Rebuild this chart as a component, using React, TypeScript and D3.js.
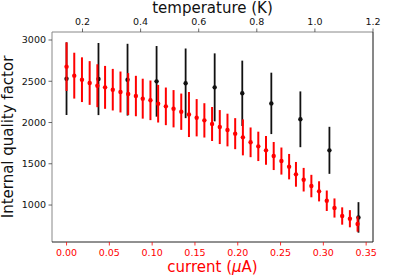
import * as d3 from "d3";
import React, { useEffect, useRef } from "react";

// red series: internal Q vs bias current
const currentUA = [
  0.0, 0.009, 0.018, 0.027, 0.036, 0.045, 0.054, 0.063, 0.072, 0.081, 0.089,
  0.098, 0.107, 0.116, 0.125, 0.134, 0.143, 0.152, 0.161, 0.17, 0.179, 0.188,
  0.197, 0.206, 0.215, 0.224, 0.233, 0.242, 0.251, 0.26, 0.268, 0.277, 0.286,
  0.295, 0.304, 0.313, 0.322, 0.331, 0.34,
];
const qCurrent = [
  2677, 2568, 2519, 2479, 2446, 2426, 2398, 2370, 2345, 2321, 2289, 2269, 2228,
  2196, 2167, 2131, 2097, 2058, 2026, 1982, 1945, 1909, 1865, 1820, 1760, 1711,
  1663, 1594, 1533, 1465, 1372, 1307, 1230, 1166, 1052, 964, 867, 834, 770,
];
const qCurrentErr = [
  295, 278, 271, 265, 260, 260, 252, 248, 254, 245, 242, 240, 228, 228, 226,
  220, 273, 226, 208, 206, 206, 198, 188, 218, 180, 178, 174, 170, 164, 154,
  150, 143, 136, 122, 124, 116, 105, 104, 93,
];

// black series: internal Q vs temperature
const temperatureK = [0.145, 0.255, 0.355, 0.455, 0.555, 0.655, 0.75, 0.85, 0.95, 1.05, 1.15];
const qTemp = [2531, 2527, 2519, 2499, 2475, 2426, 2354, 2232, 2039, 1663, 850];
const qTempErr = [440, 437, 435, 428, 422, 412, 396, 372, 338, 285, 185];

const yTicks = [1000, 1500, 2000, 2500, 3000];

const W = 415;
const H = 277;
const M = { left: 52, right: 373, top: 32, bottom: 242 };
const FONT = "DejaVu Sans, sans-serif";

const App: React.FC = () => {
  const svgRef = useRef<SVGSVGElement>(null);

  useEffect(() => {
    const svg = d3.select(svgRef.current);
    svg.selectAll("*").remove();

    const x = d3.scaleLinear().domain([-0.017, 0.358]).range([M.left, M.right]);
    const xt = d3.scaleLinear().domain([0.095, 1.2]).range([M.left, M.right]);
    const y = d3.scaleLinear().domain([552, 3097]).range([M.bottom, M.top]);

    svg.append("rect").attr("width", W).attr("height", H).attr("fill", "white");

    // black (temperature) error bars
    const gb = svg.append("g");
    temperatureK.forEach((t, i) => {
      gb.append("line")
        .attr("x1", xt(t))
        .attr("x2", xt(t))
        .attr("y1", y(qTemp[i] - qTempErr[i]))
        .attr("y2", y(qTemp[i] + qTempErr[i]))
        .attr("stroke", "#111")
        .attr("stroke-width", 1.8);
      gb.append("circle")
        .attr("cx", xt(t))
        .attr("cy", y(qTemp[i]))
        .attr("r", 2.2)
        .attr("fill", "#111");
    });

    // red (current) error bars
    const gr = svg.append("g");
    currentUA.forEach((c, i) => {
      gr.append("line")
        .attr("x1", x(c))
        .attr("x2", x(c))
        .attr("y1", y(qCurrent[i] - qCurrentErr[i]))
        .attr("y2", y(qCurrent[i] + qCurrentErr[i]))
        .attr("stroke", "red")
        .attr("stroke-width", 2);
      gr.append("circle")
        .attr("cx", x(c))
        .attr("cy", y(qCurrent[i]))
        .attr("r", 2.2)
        .attr("fill", "red");
    });

    // spines
    const spine = (x1: number, y1: number, x2: number, y2: number, c: string) =>
      svg.append("line")
        .attr("x1", x1).attr("y1", y1).attr("x2", x2).attr("y2", y2)
        .attr("stroke", c).attr("stroke-width", 1);
    spine(M.left, M.top, M.right, M.top, "#888");
    spine(M.left, M.top, M.left, M.bottom, "#888");
    spine(M.right, M.top, M.right, M.bottom, "#111");
    spine(M.left, M.bottom, M.right, M.bottom, "#222");

    // bottom axis
    const fx = d3.format(".2f");
    x.ticks(8).forEach((v) => {
      svg.append("line")
        .attr("x1", x(v)).attr("x2", x(v))
        .attr("y1", M.bottom).attr("y2", M.bottom + 3.5)
        .attr("stroke", "red").attr("stroke-width", 0.8);
      svg.append("text")
        .attr("x", x(v)).attr("y", M.bottom + 14)
        .attr("text-anchor", "middle")
        .attr("font-family", FONT).attr("font-size", 9.5)
        .attr("fill", "red")
        .text(fx(v));
    });

    // top axis
    const ft = d3.format(".1f");
    xt.ticks(6).forEach((v) => {
      svg.append("line")
        .attr("x1", xt(v)).attr("x2", xt(v))
        .attr("y1", M.top).attr("y2", M.top - 3.5)
        .attr("stroke", "#444").attr("stroke-width", 0.8);
      svg.append("text")
        .attr("x", xt(v)).attr("y", M.top - 7)
        .attr("text-anchor", "middle")
        .attr("font-family", FONT).attr("font-size", 9.5)
        .attr("fill", "#111")
        .text(ft(v));
    });

    // left axis
    yTicks.forEach((v) => {
      svg.append("line")
        .attr("x1", M.left).attr("x2", M.left - 3.5)
        .attr("y1", y(v)).attr("y2", y(v))
        .attr("stroke", "#444").attr("stroke-width", 0.8);
      svg.append("text")
        .attr("x", M.left - 6).attr("y", y(v))
        .attr("dy", "0.36em")
        .attr("text-anchor", "end")
        .attr("font-family", FONT).attr("font-size", 9.5)
        .attr("fill", "#111")
        .text(String(v));
    });

    // axis labels
    const xl = svg.append("text")
      .attr("x", (M.left + M.right) / 2).attr("y", 272)
      .attr("text-anchor", "middle")
      .attr("font-family", FONT).attr("font-size", 15)
      .attr("fill", "red");
    xl.append("tspan").text("current (");
    xl.append("tspan").attr("font-style", "italic").text("μ");
    xl.append("tspan").text("A)");

    svg.append("text")
      .attr("x", (M.left + M.right) / 2).attr("y", 13)
      .attr("text-anchor", "middle")
      .attr("font-family", FONT).attr("font-size", 15)
      .attr("fill", "#111")
      .text("temperature (K)");

    svg.append("text")
      .attr("transform", `translate(13, ${(M.top + M.bottom) / 2}) rotate(-90)`)
      .attr("text-anchor", "middle")
      .attr("font-family", FONT).attr("font-size", 15)
      .attr("fill", "#111")
      .text("Internal quality factor");
  }, []);

  return (
    <svg
      ref={svgRef}
      width={W}
      height={H}
      style={{ position: "absolute", left: 0, top: 0 }}
    />
  );
};

export default App;
